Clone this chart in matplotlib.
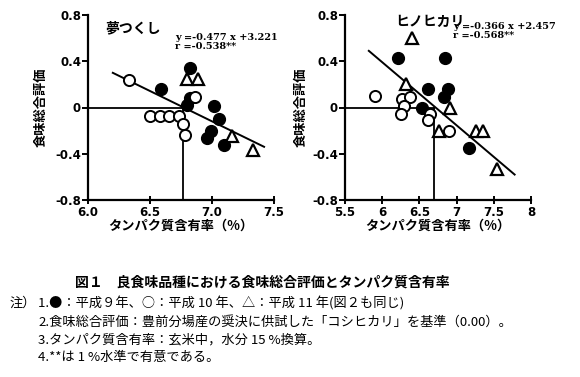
import matplotlib
matplotlib.use("Agg")
import matplotlib.pyplot as plt

plt.rcParams['font.family'] = ['Noto Sans CJK JP', 'DejaVu Sans']

# ---- data: 夢つくし ----
L_f9_x = [6.82, 6.59, 6.82, 6.80, 7.02, 7.06, 6.99, 6.96, 7.10]
L_f9_y = [0.34, 0.16, 0.08, 0.02, 0.01, -0.10, -0.20, -0.26, -0.32]
L_o10_x = [6.33, 6.86, 6.50, 6.58, 6.65, 6.73, 6.77, 6.78]
L_o10_y = [0.24, 0.09, -0.075, -0.075, -0.075, -0.075, -0.14, -0.24]
L_t11_x = [6.80, 6.89, 7.16, 7.33]
L_t11_y = [0.25, 0.25, -0.25, -0.37]
L_line_x = [6.20, 7.42]
L_line_y = [0.30, -0.34]
L_cross = 6.77
L_eq = ["y =-0.477 x +3.221", "r =-0.538**"]
L_title = "夢つくし"

# ---- data: ヒノヒカリ ----
R_f9_x = [6.21, 6.85, 6.61, 6.89, 6.83, 6.53, 7.17]
R_f9_y = [0.43, 0.43, 0.16, 0.16, 0.09, 0.00, -0.35]
R_o10_x = [5.90, 6.26, 6.38, 6.29, 6.25, 6.64, 6.61, 6.90]
R_o10_y = [0.10, 0.07, 0.09, 0.01, -0.06, -0.06, -0.11, -0.20]
R_t11_x = [6.40, 6.32, 6.91, 6.77, 7.26, 7.35, 7.54]
R_t11_y = [0.60, 0.20, 0.00, -0.20, -0.20, -0.20, -0.53]
R_line_x = [5.82, 7.78]
R_line_y = [0.49, -0.58]
R_cross = 6.70
R_eq = ["y =-0.366 x +2.457", "r =-0.568**"]
R_title = "ヒノヒカリ"

L_xticks = [6.0, 6.5, 7.0, 7.5]
L_xticklabels = ["6.0", "6.5", "7.0", "7.5"]
R_xticks = [5.5, 6.0, 6.5, 7.0, 7.5, 8.0]
R_xticklabels = ["5.5", "6", "6.5", "7", "7.5", "8"]
yticks = [-0.8, -0.4, 0.0, 0.4, 0.8]
yticklabels = ["-0.8", "-0.4", "0", "0.4", "0.8"]

xlabel = "タンパク質含有率（%）"
ylabel = "食味総合評価"

caption = "図１　良食味品種における食味総合評価とタンパク質含有率"
notes = [
    "1.●：平成９年、○：平成 10 年、△：平成 11 年(図２も同じ)",
    "2.食味総合評価：豊前分場産の奨決に供試した「コシヒカリ」を基準（0.00）。",
    "3.タンパク質含有率：玄米中，水分 15 %換算。",
    "4.**は 1 %水準で有意である。",
]

fig = plt.figure(figsize=(5.8, 3.77), dpi=100)

def panel(rect, xlim, xt, xtl, f9x, f9y, o10x, o10y, t11x, t11y, lx, ly, cross, eq, title, eqpos, titlepos):
    ax = fig.add_axes(rect)
    ax.set_xlim(*xlim)
    ax.set_ylim(-0.8, 0.8)
    for s in ['top', 'right']:
        ax.spines[s].set_visible(False)
    for s in ['left', 'bottom']:
        ax.spines[s].set_linewidth(1.6)
    ax.set_xticks(xt)
    ax.set_xticklabels(xtl, fontsize=8.5, fontweight='bold', family='DejaVu Sans')
    ax.set_yticks(yticks)
    ax.set_yticklabels(yticklabels, fontsize=8.5, fontweight='bold', family='DejaVu Sans')
    ax.tick_params(axis='x', direction='inout', length=6, width=1.4, pad=1)
    ax.tick_params(axis='y', direction='out', length=4, width=1.4, pad=1)
    ax.plot([xlim[0], cross], [0, 0], color='black', lw=1.3, zorder=2)
    ax.plot([cross, cross], [-0.8, 0], color='black', lw=1.3, zorder=2)
    ax.plot(lx, ly, color='black', lw=1.4, zorder=2)
    ax.plot(f9x, f9y, 'o', color='black', ms=8.5, zorder=3, clip_on=False)
    ax.plot(o10x, o10y, 'o', mfc='white', mec='black', mew=1.4, ms=8, zorder=3, clip_on=False)
    ax.plot(t11x, t11y, '^', mfc='white', mec='black', mew=1.6, ms=8.5, zorder=3, clip_on=False)
    ax.text(eqpos[0], eqpos[1], eq[0] + "\n" + eq[1], transform=ax.transAxes,
            fontsize=7, fontweight='bold', family='DejaVu Serif', va='top', linespacing=0.95)
    ax.text(titlepos[0], titlepos[1], title, transform=ax.transAxes,
            fontsize=10, fontweight='bold', va='top')
    ax.set_xlabel(xlabel, fontsize=9.5, fontweight='bold', labelpad=0)
    return ax

bottom = 1 - 200 / 377
height = (200 - 15) / 377
axL = panel([88 / 580, bottom, 186 / 580, height], (6.0, 7.5), L_xticks, L_xticklabels,
            L_f9_x, L_f9_y, L_o10_x, L_o10_y, L_t11_x, L_t11_y, L_line_x, L_line_y, L_cross,
            L_eq, L_title, (0.47, 0.90), (0.09, 0.965))
axR = panel([345 / 580, bottom, 186 / 580, height], (5.5, 8.0), R_xticks, R_xticklabels,
            R_f9_x, R_f9_y, R_o10_x, R_o10_y, R_t11_x, R_t11_y, R_line_x, R_line_y, R_cross,
            R_eq, R_title, (0.58, 0.96), (0.27, 1.0))

fig.text(41 / 580, 1 - 107 / 377, ylabel, rotation=90, fontsize=9.5, fontweight='bold',
         ha='center', va='center')
fig.text(301 / 580, 1 - 107 / 377, ylabel, rotation=90, fontsize=9.5, fontweight='bold',
         ha='center', va='center')

fig.text(262 / 580, 1 - 283 / 377, caption, fontsize=10, fontweight='bold', ha='center', va='center')
fig.text(10 / 580, 1 - 303 / 377, "注）", fontsize=9.5, ha='left', va='center')
ys = [303, 322, 340, 357]
for t, y in zip(notes, ys):
    fig.text(38 / 580, 1 - y / 377, t, fontsize=9.5, ha='left', va='center')

fig.savefig("out.png", dpi=100)
